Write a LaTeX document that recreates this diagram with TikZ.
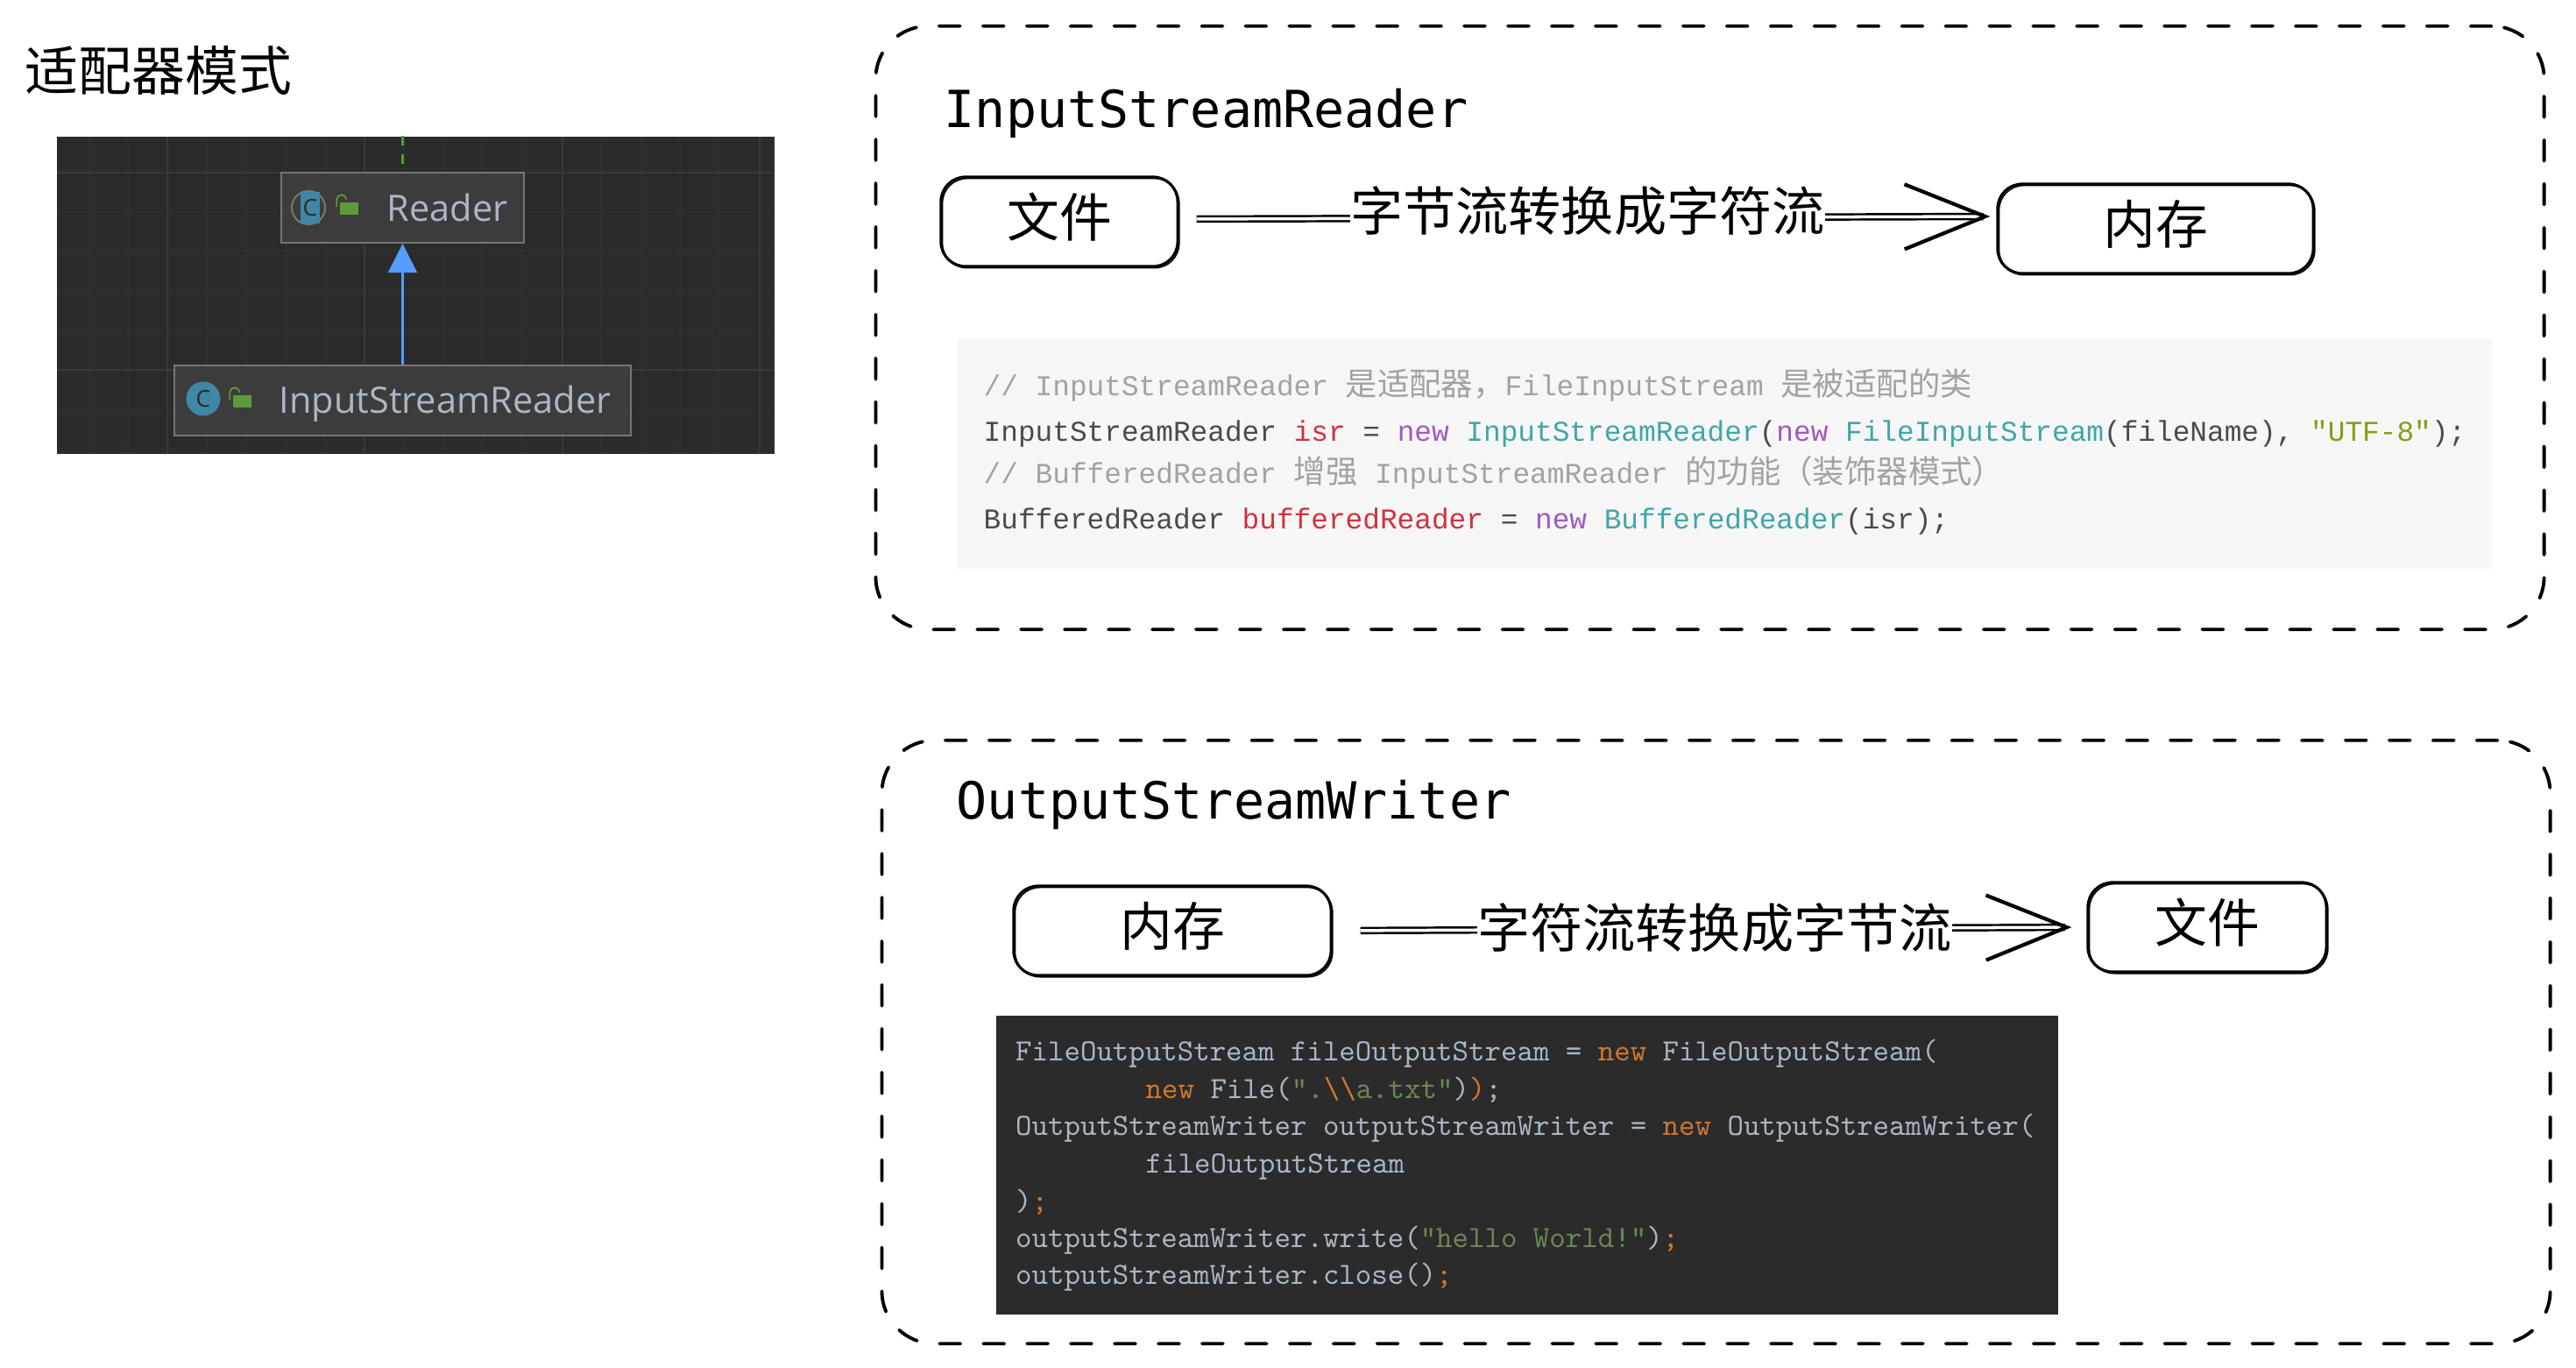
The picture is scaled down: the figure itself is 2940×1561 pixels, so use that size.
\documentclass[tikz,border=0pt]{standalone}
\usepackage{fontspec}
\usepackage{xcolor}
\setmainfont{Noto Sans CJK SC}
\newfontfamily\cjk{Noto Sans CJK SC}
\newfontfamily\mono{DejaVu Sans Mono}
\newfontfamily\codefont{Liberation Mono}
\newfontfamily\uifont{Open Sans}
\usetikzlibrary{arrows.meta,positioning}
\definecolor{panelbg}{HTML}{2B2B2B}
\definecolor{gridminor}{HTML}{2F2F2F}
\definecolor{gridmajor}{HTML}{393939}
\definecolor{classfill}{HTML}{3C3C3C}
\definecolor{classedge}{HTML}{767676}
\definecolor{classtext}{HTML}{A9B7C6}
\definecolor{iconblue}{HTML}{3F87A6}
\definecolor{lockgreen}{HTML}{5C9A3C}
\definecolor{linkblue}{HTML}{549EFF}
\definecolor{lightbg}{HTML}{F6F6F6}
\definecolor{lighttext}{HTML}{4A4A4A}
\definecolor{lightnote}{HTML}{A2A2A2}
\definecolor{lightvar}{HTML}{D2303F}
\definecolor{lightnew}{HTML}{A158BE}
\definecolor{lighttype}{HTML}{3FA6A8}
\definecolor{lightstr}{HTML}{8A9A10}
\definecolor{darkkey}{HTML}{CC7832}
\definecolor{darkstr}{HTML}{6A8759}
\newcommand{\zh}[1]{{\cjk\fontsize{10.35}{12}\selectfont #1}}
\newcommand{\lnew}[1]{\textcolor{lightnew}{#1}}
\newcommand{\ltype}[1]{\textcolor{lighttype}{#1}}
\newcommand{\lvar}[1]{\textcolor{lightvar}{#1}}
\newcommand{\dkey}[1]{\textcolor{darkkey}{#1}}
\newcommand{\dstr}[1]{\textcolor{darkstr}{#1}}
\begin{document}
\begin{tikzpicture}[
        x=0.01cm, y=-0.01cm,
        group/.style={draw, dashed, line width=1.1pt, line cap=round, dash pattern=on 6.8pt off 7.4pt, rounded corners=0.6cm, minimum width=19.03cm, minimum height=6.88cm},
        sketch/.style={draw, line width=0.9pt, rounded corners=0.28cm, minimum width=#1, minimum height=1.02cm, text depth=0.16cm, font=\fontsize{17}{20}\selectfont, postaction={draw, line width=0.4pt, rounded corners=0.3cm, transform canvas={xshift=0.5pt, yshift=-0.5pt}}},
        flow/.style={line width=0.7pt, double, double distance=1pt, -{Straight Barb[length=0.92cm, width=0.74cm, line width=1.2pt]}},
        flowtext/.style={fill=white, inner sep=0pt, font=\fontsize{17.1}{20}\selectfont},
        heading/.style={anchor=base west, inner sep=0pt, font=\mono\fontsize{16.6}{20}\selectfont},
        classbox/.style={draw=classedge, line width=0.6pt, fill=classfill, minimum height=0.8cm, inner sep=0pt},
        classname/.style={anchor=west, inner sep=0pt, text=classtext, font=\uifont\fontsize{11.8}{15}\selectfont},
        badge/.style={circle, fill=iconblue, inner sep=0pt, minimum size=0.39cm, text=panelbg, font=\uifont\fontsize{7.5}{8}\selectfont},
        lockbody/.style={fill=lockgreen, inner sep=0pt, minimum width=0.21cm, minimum height=0.13cm},
        lightcode/.style={anchor=base west, inner sep=0pt, text=lighttext, font=\codefont\fontsize{9.32}{11}\selectfont},
        darkcode/.style={anchor=base west, inner sep=0pt, text=classtext, font=\ttfamily\fontsize{10}{12}\selectfont}
    ]
    \useasboundingbox (0,0) rectangle (2940,1561);
    \node[anchor=west, inner sep=0pt, font=\fontsize{17.3}{20}\selectfont] (title) at (28,80) {适配器模式};
    % Class diagram
    \node[fill=panelbg, minimum width=8.19cm, minimum height=3.62cm, inner sep=0pt] (panel) at (474.5,337) {};
    \foreach \gx in {101,146,236,281,326,371,461,506,551,596,686,731,776,821}
        \draw[gridminor, line width=0.4pt] (\gx,156) -- (\gx,518);
    \foreach \gy in {242,287,332,377,467,512}
        \draw[gridminor, line width=0.4pt] (65,\gy) -- (884,\gy);
    \foreach \gx in {191,416,642,867}
        \draw[gridmajor, line width=0.5pt] (\gx,156) -- (\gx,518);
    \foreach \gy in {197,422}
        \draw[gridmajor, line width=0.5pt] (65,\gy) -- (884,\gy);
    \node[classbox, minimum width=2.77cm] (reader) at (459.5,237) {};
    \node[classbox, minimum width=5.21cm] (isr) at (459.5,457) {};
    \coordinate (paneltop) at (reader.north |- panel.north);
    \draw[lockgreen, line width=0.7pt, dashed] (paneltop) -- (reader.north);
    \draw[linkblue, line width=0.6pt, -{Triangle[length=0.33cm, width=0.33cm]}] (isr.north) -- (reader.south);
    % Icons
    \node[circle, draw=classedge, line width=0.6pt, inner sep=0pt, minimum size=0.38cm] (rring) at (352,237) {};
    \node[fill=iconblue, inner sep=0pt, minimum width=0.22cm, minimum height=0.36cm, text=panelbg, font=\uifont\fontsize{7.5}{8}\selectfont] (ricon) at (354,237) {C};
    \node[badge] (iicon) at (232,455) {C};
    \node[lockbody] (rlock) at (398.5,238) {};
    \node[lockbody] (ilock) at (276.5,458) {};
    \foreach \n in {rlock,ilock}
        \draw[lockgreen, line width=0.5pt] ([xshift=0.08cm, yshift=0.03cm]\n.north west) arc[start angle=0, end angle=180, radius=0.055cm] -- ++(0,8);
    \node[classname] (rname) at (441,237) {Reader};
    \node[classname] (iname) at (318,461) {InputStreamReader};
    % InputStreamReader group
    \node[group] (ingroup) at (1951.5,374) {};
    \node[heading] (intitle) at (1077,146) {InputStreamReader};
    \node[sketch=2.7cm] (infile) at (1209,253) {文件};
    \node[sketch=3.6cm] (inmem) at (2460,261) {内存};
    \draw[flow, shorten <=0.2cm, shorten >=0.07cm] ([yshift=0.03cm]infile.east) -- node[flowtext, yshift=0.08cm] (inflow) {字节流转换成字符流} ([yshift=0.14cm]inmem.west);
    \node[fill=lightbg, minimum width=17.5cm, minimum height=2.63cm, inner sep=0pt] (incode) at (1968,517.5) {};
    \node[lightcode, text=lightnote] (inline1) at (1122,451.5) {// InputStreamReader \zh{是适配器，}FileInputStream \zh{是被适配的类}};
    \node[lightcode] (inline2) at (1122,503.5) {InputStreamReader \lvar{isr} = \lnew{new} \ltype{InputStreamReader}(\lnew{new} \ltype{FileInputStream}(fileName), \textcolor{lightstr}{"UTF-8"});};
    \node[lightcode, text=lightnote] (inline3) at (1122,551.5) {// BufferedReader \zh{增强} InputStreamReader \zh{的功能（装饰器模式）}};
    \node[lightcode] (inline4) at (1122,603.5) {BufferedReader \lvar{bufferedReader} = \lnew{new} \ltype{BufferedReader}(isr);};
    % OutputStreamWriter group
    \node[group] (outgroup) at (1958.5,1189) {};
    \node[heading] (outtitle) at (1091,934) {OutputStreamWriter};
    \node[sketch=3.62cm] (outmem) at (1338,1062) {内存};
    \node[sketch=2.72cm] (outfile) at (2519,1058) {文件};
    \draw[flow, shorten <=0.32cm, shorten >=0.17cm] (outmem.east) -- node[flowtext, xshift=0.06cm, yshift=0.01cm] (outflow) {字符流转换成字节流} (outfile.west);
    \node[fill=panelbg, minimum width=12.12cm, minimum height=3.41cm, inner sep=0pt] (outcode) at (1743,1329.5) {};
    \node[darkcode] (outline1) at (1158.5,1210.5) {FileOutputStream fileOutputStream = \dkey{new} FileOutputStream(};
    \node[darkcode] (outline2) at (1307,1253) {\dkey{new} File(\dstr{".\dkey{\textbackslash\textbackslash}a.txt"})\dkey{)};};
    \node[darkcode] (outline3) at (1158.5,1295.5) {OutputStreamWriter outputStreamWriter = \dkey{new} OutputStreamWriter(};
    \node[darkcode] (outline4) at (1307,1338) {fileOutputStream};
    \node[darkcode] (outline5) at (1158.5,1381) {)\dkey{;}};
    \node[darkcode] (outline6) at (1158.5,1423) {outputStreamWriter.write(\dstr{"hello World!"})\dkey{;}};
    \node[darkcode] (outline7) at (1158.5,1465.5) {outputStreamWriter.close()\dkey{;}};
\end{tikzpicture}
\end{document}
